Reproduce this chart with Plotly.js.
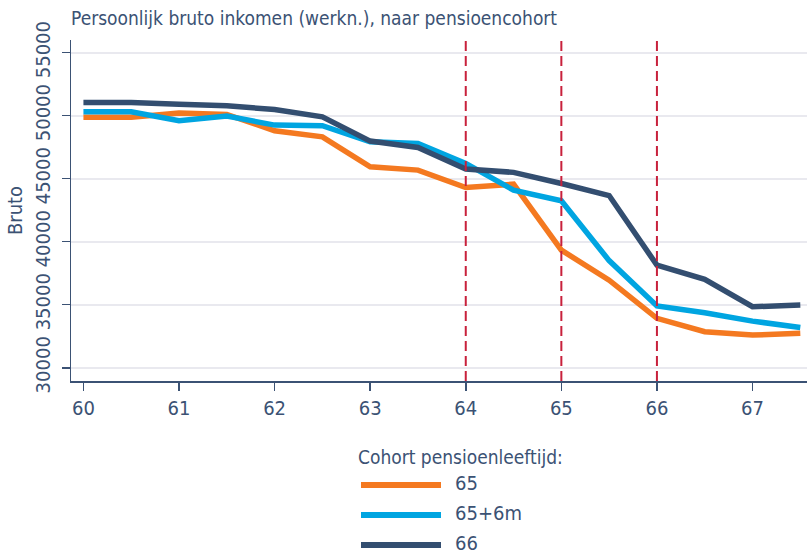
<!DOCTYPE html>
<html><head><meta charset="utf-8">
<script src="https://cdn.plot.ly/plotly-3.0.1.min.js"></script>
<style>html,body{margin:0;padding:0;background:#fff}#chart{width:807px;height:554px}</style>
</head><body><div id="chart"></div>
<script>
const age = [60,60.5,61,61.5,62,62.5,63,63.5,64,64.5,65,65.5,66,66.5,67,67.5];
const cohort65   = [49870,49870,50200,50100,48800,48320,45940,45680,44300,44560,39330,36950,33920,32860,32590,32730];
const cohort65_6 = [50300,50300,49590,49970,49250,49200,47920,47790,46210,44090,43250,38500,34900,34360,33700,33200];
const cohort66   = [51050,51050,50900,50780,50490,49900,47980,47480,45760,45500,44620,43660,38140,37010,34840,34970];
const seriesNames = ['65','65+6m','66'];
const pensionAges = [64,65,66];
const xTicks = [60,61,62,63,64,65,66,67];
const yTicks = [30000,35000,40000,45000,50000,55000];
const legendTitle = 'Cohort pensioenleeftijd:';
const titleText = 'Persoonlijk bruto inkomen (werkn.), naar pensioencohort';

const colors = ['#f47920','#00a5e1','#334e70'];
const txt = '#3b5274';
const FONT = 'Liberation Sans Narrow, DejaVu Sans Condensed, Arial Narrow, sans-serif';

const ys = [cohort65, cohort65_6, cohort66];
const traces = ys.map((y,i)=>({x:age,y:y,type:'scatter',mode:'lines',name:seriesNames[i],
  line:{color:colors[i],width:5.5},showlegend:false}));

const shapes = pensionAges.map(a=>({type:'line',xref:'x',yref:'paper',x0:a,x1:a,y0:0,y1:1,
  line:{color:'#c8213c',width:2,dash:'10px,5px'}}));
const annotations = [];
// custom legend (paper coords: plot x 71..807, y 40..381)
const px = X => (X-71)/736, py = Y => (381-Y)/341;
annotations.push({xref:'paper',yref:'paper',x:px(356),y:py(457),xanchor:'left',yanchor:'middle',
  text:legendTitle,showarrow:false,font:{family:FONT,size:19,color:txt}});
[485,515,545].forEach((Y,i)=>{
  shapes.push({type:'line',xref:'paper',yref:'paper',x0:px(361),x1:px(441),y0:py(Y),y1:py(Y),
    line:{color:colors[i],width:6}});
  annotations.push({xref:'paper',yref:'paper',x:px(453),y:py(Y-2),xanchor:'left',yanchor:'middle',
    text:seriesNames[i],showarrow:false,font:{family:FONT,size:20,color:txt}});
});

const layout = {
  width:807,height:554,paper_bgcolor:'#fff',plot_bgcolor:'#fff',
  margin:{l:71,r:0,t:40,b:173},
  font:{family:FONT,color:txt,size:19},
  title:{text:titleText,x:0,xref:'paper',xanchor:'left',y:1-18/554,yref:'container',yanchor:'middle',
    font:{family:FONT,size:19,color:txt}},
  xaxis:{range:[59.87,67.57],tickvals:xTicks,ticktext:xTicks.map(String),showgrid:false,zeroline:false,
    showline:true,linecolor:txt,linewidth:1.5,ticks:'outside',ticklen:8,tickcolor:txt,tickwidth:1.5,
    tickfont:{family:FONT,size:20,color:txt}},
  yaxis:{range:[28950,56000],tickvals:yTicks,ticktext:yTicks.map(String),showgrid:true,gridcolor:'#e9e9ef',gridwidth:2,
    zeroline:false,showline:true,linecolor:txt,linewidth:1.5,ticks:'outside',ticklen:8,tickcolor:txt,tickwidth:1.5,
    tickangle:-90,ticklabelstandoff:4,tickfont:{family:FONT,size:20,color:txt},
    title:{text:'Bruto',standoff:2,font:{family:FONT,size:20,color:txt}}},
  shapes:shapes,annotations:annotations,showlegend:false
};
Plotly.newPlot('chart',traces,layout,{displayModeBar:false,staticPlot:true});
</script></body></html>
